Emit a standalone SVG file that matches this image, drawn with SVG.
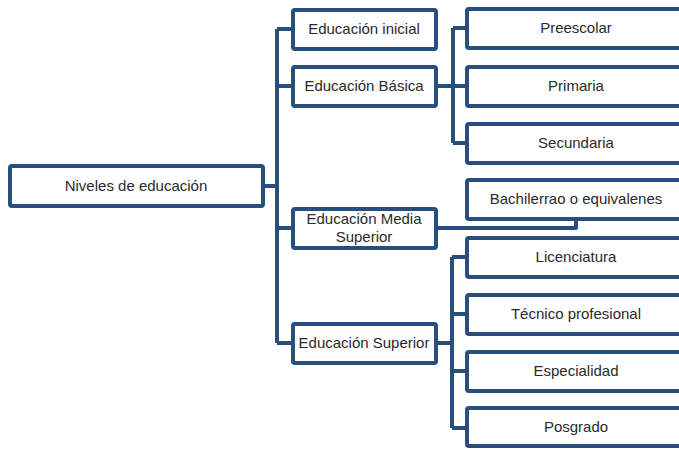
<svg xmlns="http://www.w3.org/2000/svg" width="679" height="449" viewBox="0 0 679 449">
<style>
.box{fill:#fff;stroke:#274E7D;stroke-width:4}
.c{fill:none;stroke:#274E7D;stroke-width:4;stroke-linejoin:round}
text{font-family:"Liberation Sans",Arial,sans-serif;font-size:15px;fill:#2a2a2a;text-anchor:middle}
</style>
<rect width="679" height="449" fill="#fff"/>
<g id="connectors">
<path class="c" d="M264 186H277M277 29V343M277 29H292M277 86H292M277 228H292M277 343H292"/>
<path class="c" d="M437 86H453M453 28V143M453 28H465M453 86H465M453 143H465"/>
<path class="c" d="M437 228H576V220"/>
<path class="c" d="M438 343H452M452 257V428M452 257H465M452 314H465M452 371H465M452 428H465"/>
</g>
<g id="n-root"><rect class="box" x="10" y="166" width="253" height="40" rx="2"/><text x="136" y="191">Niveles de educación</text></g>
<g id="n-inicial"><rect class="box" x="293" y="10" width="143" height="39" rx="2"/><text x="364" y="34">Educación inicial</text></g>
<g id="n-basica"><rect class="box" x="293" y="67" width="143" height="39" rx="2"/><text x="364" y="91">Educación Básica</text></g>
<g id="n-media"><rect class="box" x="293" y="209" width="143" height="39" rx="2"/><text x="364" y="224">Educación Media</text><text x="364" y="242">Superior</text></g>
<g id="n-superior"><rect class="box" x="293" y="324" width="143" height="39" rx="2"/><text x="364" y="348">Educación Superior</text></g>
<g id="n-preescolar"><rect class="box" x="467" y="9" width="220" height="39" rx="2"/><text x="576" y="33">Preescolar</text></g>
<g id="n-primaria"><rect class="box" x="467" y="67" width="220" height="39" rx="2"/><text x="576" y="91">Primaria</text></g>
<g id="n-secundaria"><rect class="box" x="467" y="124" width="220" height="39" rx="2"/><text x="576" y="148">Secundaria</text></g>
<g id="n-bachillerato"><rect class="box" x="467" y="180" width="220" height="39" rx="2"/><text x="576" y="204">Bachilerrao o equivalenes</text></g>
<g id="n-licenciatura"><rect class="box" x="467" y="238" width="220" height="39" rx="2"/><text x="576" y="262">Licenciatura</text></g>
<g id="n-tecnico"><rect class="box" x="467" y="295" width="220" height="39" rx="2"/><text x="576" y="319">Técnico profesional</text></g>
<g id="n-especialidad"><rect class="box" x="467" y="352" width="220" height="39" rx="2"/><text x="576" y="376">Especialidad</text></g>
<g id="n-posgrado"><rect class="box" x="467" y="408" width="220" height="38" rx="2"/><text x="576" y="432">Posgrado</text></g>
</svg>
